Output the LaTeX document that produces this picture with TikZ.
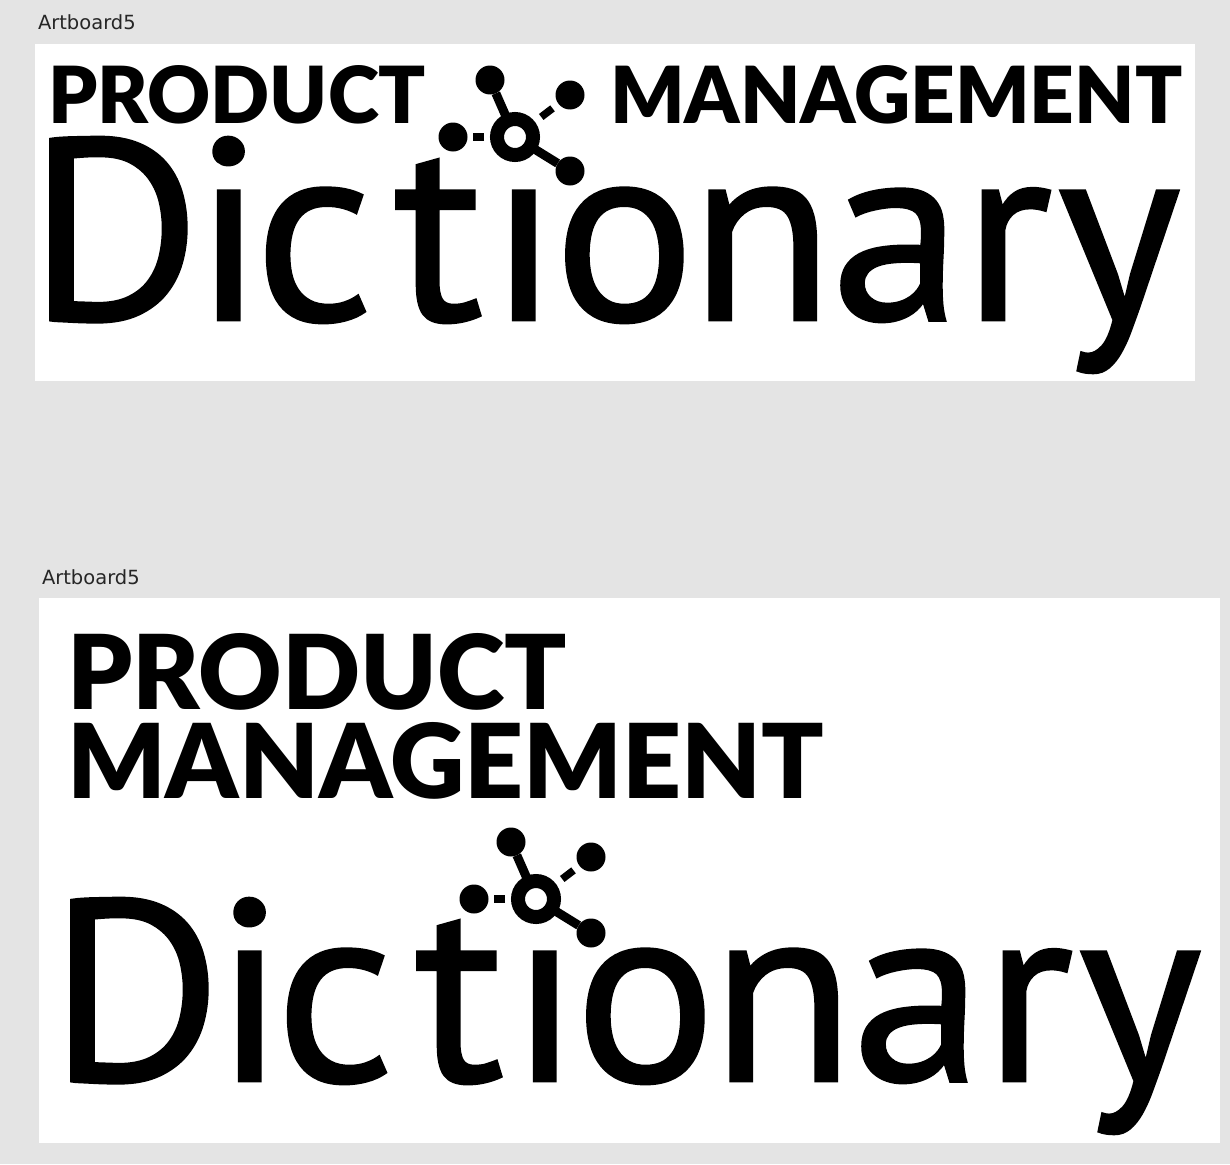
\documentclass[tikz,border=0pt]{standalone}
\usepackage{fontspec}
\setmainfont{Lato}
\newfontfamily\blk{Lato Black}
\newfontfamily\dictf[FakeBold=1]{PT Sans}
\newfontfamily\labf{DejaVu Sans}
\definecolor{bgc}{HTML}{E4E4E4}
\tikzset{
 every node/.style={inner sep=0pt,outer sep=0pt},
 board/.style={fill=white,draw=none},
 lab/.style={anchor=base west,text=black!85,font=\labf\fontsize{19.5}{22}\selectfont},
 ttl/.style={anchor=base west},
 link/.style={line width=9pt,black},
 gaplink/.style={line width=7.5pt,black},
 dotn/.style={circle,fill=black,minimum size=29pt},
 ringn/.style={circle,draw=black,line width=14pt,fill=white,minimum size=36pt}
}
\newcommand{\fit}[3]{\resizebox{#1pt}{#2pt}{#3}}
\newcommand{\kn}[1]{\kern\dimexpr#1pt*100/2610\relax}
\newcommand{\dictword}{\dictf D\kn{-8}i\kn{-10}c\kn{20}t\kn{5}ı\kn{-6}o\kn{-6}n\kn{-3}a\kn{0}r\kn{5}y}
\newcommand{\logo}[3]{%
\begin{scope}[shift={(#1,#2)}]
 \node[dotn] (#3a) at (-25,-57) {};
 \node[dotn] (#3b) at (55,-42) {};
 \node[dotn] (#3c) at (-62,0) {};
 \node[dotn] (#3d) at (55,34) {};
 \node[ringn] (#3r) at (0,0) {};
 \draw[link] (#3r) -- (#3a);
 \draw[link] (#3r) -- (#3d);
 \draw[gaplink,shorten <=15pt,shorten >=7.5pt] (#3r) -- (#3b);
 \draw[gaplink,shorten <=13pt,shorten >=5.5pt] (#3r) -- (#3c);
\end{scope}}
\begin{document}
\begin{tikzpicture}[x=1pt,y=-1pt]
\useasboundingbox (0,0) rectangle (1230,1164);
\fill[bgc] (0,0) rectangle (1230,1164);
\node[lab] (l1) at (38,30) {Artboard5};
\node[lab] (l2) at (42,584) {Artboard5};
\path[board] (35,44) rectangle (1195,381);
\path[board] (39,598) rectangle (1220,1143);
\node[ttl] (p1) at (48,123) {\fit{378}{58}{\blk PRODUCT}};
\node[ttl] (m1) at (610,123) {\fit{572}{58}{\blk MANAGEMENT}};
\node[anchor=base west] (dd1) at (28,320) {\fit{1152}{183}{\dictword}};
\logo{515}{137}{a}
\node[ttl] (p2) at (67,709) {\fit{500}{76}{\blk PRODUCT}};
\node[ttl] (m2) at (67,798) {\fit{757}{76}{\blk MANAGEMENT}};
\node[anchor=base west] (dd2) at (49,1081) {\fit{1152}{183}{\dictword}};
\logo{536}{899}{b}
\end{tikzpicture}
\end{document}
